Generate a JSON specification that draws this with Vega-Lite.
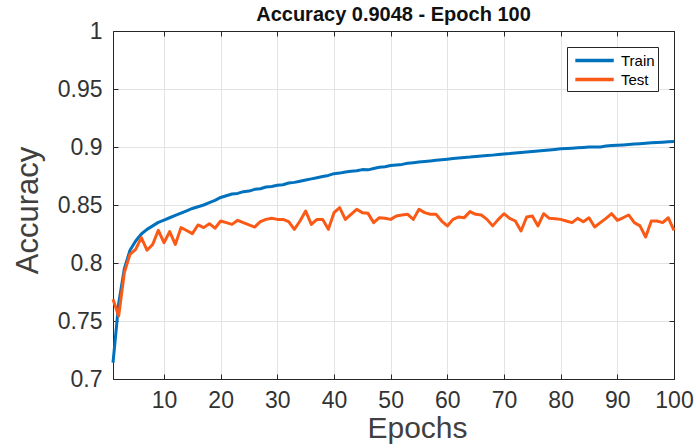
{
 "$schema": "https://vega.github.io/schema/vega-lite/v6.json",
 "width": 561,
 "height": 348,
 "autosize": {"type": "none"},
 "padding": {"left": 113, "top": 31, "right": 22, "bottom": 69},
 "background": "white",
 "config": {"view": {"stroke": null}, "font": "Liberation Sans"},
 "title": {"text": "Accuracy 0.9048 - Epoch 100", "fontSize": 20, "fontWeight": "bold", "font": "Liberation Sans", "color": "#111111", "offset": 9, "dy": 14, "anchor": "middle"},
 "data": {"values": [
  {"epoch":1,"set":"Train","acc":0.714},{"epoch":2,"set":"Train","acc":0.765},{"epoch":3,"set":"Train","acc":0.795},{"epoch":4,"set":"Train","acc":0.811},{"epoch":5,"set":"Train","acc":0.819},
  {"epoch":6,"set":"Train","acc":0.825},{"epoch":7,"set":"Train","acc":0.829},{"epoch":8,"set":"Train","acc":0.832},{"epoch":9,"set":"Train","acc":0.835},{"epoch":10,"set":"Train","acc":0.837},
  {"epoch":11,"set":"Train","acc":0.839},{"epoch":12,"set":"Train","acc":0.841},{"epoch":13,"set":"Train","acc":0.843},{"epoch":14,"set":"Train","acc":0.845},{"epoch":15,"set":"Train","acc":0.847},
  {"epoch":16,"set":"Train","acc":0.8485},{"epoch":17,"set":"Train","acc":0.850},{"epoch":18,"set":"Train","acc":0.852},{"epoch":19,"set":"Train","acc":0.854},{"epoch":20,"set":"Train","acc":0.8565},
  {"epoch":21,"set":"Train","acc":0.858},{"epoch":22,"set":"Train","acc":0.8595},{"epoch":23,"set":"Train","acc":0.860},{"epoch":24,"set":"Train","acc":0.8615},{"epoch":25,"set":"Train","acc":0.862},
  {"epoch":26,"set":"Train","acc":0.8635},{"epoch":27,"set":"Train","acc":0.864},{"epoch":28,"set":"Train","acc":0.8655},{"epoch":29,"set":"Train","acc":0.866},{"epoch":30,"set":"Train","acc":0.867},
  {"epoch":31,"set":"Train","acc":0.8675},{"epoch":32,"set":"Train","acc":0.869},{"epoch":33,"set":"Train","acc":0.8695},{"epoch":34,"set":"Train","acc":0.8705},{"epoch":35,"set":"Train","acc":0.8715},
  {"epoch":36,"set":"Train","acc":0.8725},{"epoch":37,"set":"Train","acc":0.8735},{"epoch":38,"set":"Train","acc":0.8745},{"epoch":39,"set":"Train","acc":0.8755},{"epoch":40,"set":"Train","acc":0.877},
  {"epoch":41,"set":"Train","acc":0.8775},{"epoch":42,"set":"Train","acc":0.8785},{"epoch":43,"set":"Train","acc":0.879},{"epoch":44,"set":"Train","acc":0.8795},{"epoch":45,"set":"Train","acc":0.8805},
  {"epoch":46,"set":"Train","acc":0.8803},{"epoch":47,"set":"Train","acc":0.8815},{"epoch":48,"set":"Train","acc":0.8825},{"epoch":49,"set":"Train","acc":0.883},{"epoch":50,"set":"Train","acc":0.884},
  {"epoch":51,"set":"Train","acc":0.8845},{"epoch":52,"set":"Train","acc":0.885},{"epoch":53,"set":"Train","acc":0.886},{"epoch":54,"set":"Train","acc":0.8865},{"epoch":55,"set":"Train","acc":0.887},
  {"epoch":56,"set":"Train","acc":0.8875},{"epoch":57,"set":"Train","acc":0.888},{"epoch":58,"set":"Train","acc":0.8885},{"epoch":59,"set":"Train","acc":0.889},{"epoch":60,"set":"Train","acc":0.8895},
  {"epoch":61,"set":"Train","acc":0.890},{"epoch":62,"set":"Train","acc":0.8905},{"epoch":63,"set":"Train","acc":0.891},{"epoch":64,"set":"Train","acc":0.8913},{"epoch":65,"set":"Train","acc":0.8918},
  {"epoch":66,"set":"Train","acc":0.8922},{"epoch":67,"set":"Train","acc":0.8926},{"epoch":68,"set":"Train","acc":0.893},{"epoch":69,"set":"Train","acc":0.8935},{"epoch":70,"set":"Train","acc":0.894},
  {"epoch":71,"set":"Train","acc":0.8943},{"epoch":72,"set":"Train","acc":0.8948},{"epoch":73,"set":"Train","acc":0.8952},{"epoch":74,"set":"Train","acc":0.8957},{"epoch":75,"set":"Train","acc":0.8962},
  {"epoch":76,"set":"Train","acc":0.8966},{"epoch":77,"set":"Train","acc":0.897},{"epoch":78,"set":"Train","acc":0.8975},{"epoch":79,"set":"Train","acc":0.8979},{"epoch":80,"set":"Train","acc":0.8984},
  {"epoch":81,"set":"Train","acc":0.8987},{"epoch":82,"set":"Train","acc":0.899},{"epoch":83,"set":"Train","acc":0.8993},{"epoch":84,"set":"Train","acc":0.8996},{"epoch":85,"set":"Train","acc":0.8999},
  {"epoch":86,"set":"Train","acc":0.9001},{"epoch":87,"set":"Train","acc":0.9000},{"epoch":88,"set":"Train","acc":0.9008},{"epoch":89,"set":"Train","acc":0.9012},{"epoch":90,"set":"Train","acc":0.9015},
  {"epoch":91,"set":"Train","acc":0.9018},{"epoch":92,"set":"Train","acc":0.9022},{"epoch":93,"set":"Train","acc":0.9026},{"epoch":94,"set":"Train","acc":0.9029},{"epoch":95,"set":"Train","acc":0.9032},
  {"epoch":96,"set":"Train","acc":0.9036},{"epoch":97,"set":"Train","acc":0.9039},{"epoch":98,"set":"Train","acc":0.9042},{"epoch":99,"set":"Train","acc":0.9045},{"epoch":100,"set":"Train","acc":0.9048},
  {"epoch":1,"set":"Test","acc":0.7687},{"epoch":2,"set":"Test","acc":0.7543},{"epoch":3,"set":"Test","acc":0.7917},{"epoch":4,"set":"Test","acc":0.8075},{"epoch":5,"set":"Test","acc":0.8118},
  {"epoch":6,"set":"Test","acc":0.8218},{"epoch":7,"set":"Test","acc":0.811},{"epoch":8,"set":"Test","acc":0.816},{"epoch":9,"set":"Test","acc":0.8282},{"epoch":10,"set":"Test","acc":0.8175},
  {"epoch":11,"set":"Test","acc":0.827},{"epoch":12,"set":"Test","acc":0.816},{"epoch":13,"set":"Test","acc":0.8305},{"epoch":14,"set":"Test","acc":0.828},{"epoch":15,"set":"Test","acc":0.8253},
  {"epoch":16,"set":"Test","acc":0.8328},{"epoch":17,"set":"Test","acc":0.8305},{"epoch":18,"set":"Test","acc":0.8339},{"epoch":19,"set":"Test","acc":0.830},{"epoch":20,"set":"Test","acc":0.8362},
  {"epoch":21,"set":"Test","acc":0.8348},{"epoch":22,"set":"Test","acc":0.8333},{"epoch":23,"set":"Test","acc":0.8368},{"epoch":24,"set":"Test","acc":0.8348},{"epoch":25,"set":"Test","acc":0.8328},
  {"epoch":26,"set":"Test","acc":0.831},{"epoch":27,"set":"Test","acc":0.8356},{"epoch":28,"set":"Test","acc":0.8376},{"epoch":29,"set":"Test","acc":0.8385},{"epoch":30,"set":"Test","acc":0.8376},
  {"epoch":31,"set":"Test","acc":0.8376},{"epoch":32,"set":"Test","acc":0.8356},{"epoch":33,"set":"Test","acc":0.829},{"epoch":34,"set":"Test","acc":0.8362},{"epoch":35,"set":"Test","acc":0.8448},
  {"epoch":36,"set":"Test","acc":0.8333},{"epoch":37,"set":"Test","acc":0.8376},{"epoch":38,"set":"Test","acc":0.8376},{"epoch":39,"set":"Test","acc":0.829},{"epoch":40,"set":"Test","acc":0.8434},
  {"epoch":41,"set":"Test","acc":0.8477},{"epoch":42,"set":"Test","acc":0.8376},{"epoch":43,"set":"Test","acc":0.842},{"epoch":44,"set":"Test","acc":0.8463},{"epoch":45,"set":"Test","acc":0.8434},
  {"epoch":46,"set":"Test","acc":0.8428},{"epoch":47,"set":"Test","acc":0.8348},{"epoch":48,"set":"Test","acc":0.8391},{"epoch":49,"set":"Test","acc":0.8385},{"epoch":50,"set":"Test","acc":0.8376},
  {"epoch":51,"set":"Test","acc":0.8405},{"epoch":52,"set":"Test","acc":0.8414},{"epoch":53,"set":"Test","acc":0.842},{"epoch":54,"set":"Test","acc":0.8376},{"epoch":55,"set":"Test","acc":0.8463},
  {"epoch":56,"set":"Test","acc":0.8434},{"epoch":57,"set":"Test","acc":0.842},{"epoch":58,"set":"Test","acc":0.842},{"epoch":59,"set":"Test","acc":0.8362},{"epoch":60,"set":"Test","acc":0.8319},
  {"epoch":61,"set":"Test","acc":0.8376},{"epoch":62,"set":"Test","acc":0.8397},{"epoch":63,"set":"Test","acc":0.8391},{"epoch":64,"set":"Test","acc":0.8443},{"epoch":65,"set":"Test","acc":0.842},
  {"epoch":66,"set":"Test","acc":0.8414},{"epoch":67,"set":"Test","acc":0.8376},{"epoch":68,"set":"Test","acc":0.832},{"epoch":69,"set":"Test","acc":0.8376},{"epoch":70,"set":"Test","acc":0.8425},
  {"epoch":71,"set":"Test","acc":0.8385},{"epoch":72,"set":"Test","acc":0.8362},{"epoch":73,"set":"Test","acc":0.8276},{"epoch":74,"set":"Test","acc":0.8397},{"epoch":75,"set":"Test","acc":0.8405},
  {"epoch":76,"set":"Test","acc":0.832},{"epoch":77,"set":"Test","acc":0.8425},{"epoch":78,"set":"Test","acc":0.8385},{"epoch":79,"set":"Test","acc":0.8382},{"epoch":80,"set":"Test","acc":0.8376},
  {"epoch":81,"set":"Test","acc":0.8362},{"epoch":82,"set":"Test","acc":0.8348},{"epoch":83,"set":"Test","acc":0.8385},{"epoch":84,"set":"Test","acc":0.8356},{"epoch":85,"set":"Test","acc":0.839},
  {"epoch":86,"set":"Test","acc":0.831},{"epoch":87,"set":"Test","acc":0.8348},{"epoch":88,"set":"Test","acc":0.8385},{"epoch":89,"set":"Test","acc":0.8425},{"epoch":90,"set":"Test","acc":0.8368},
  {"epoch":91,"set":"Test","acc":0.839},{"epoch":92,"set":"Test","acc":0.8414},{"epoch":93,"set":"Test","acc":0.8348},{"epoch":94,"set":"Test","acc":0.832},{"epoch":95,"set":"Test","acc":0.8224},
  {"epoch":96,"set":"Test","acc":0.8362},{"epoch":97,"set":"Test","acc":0.8362},{"epoch":98,"set":"Test","acc":0.8348},{"epoch":99,"set":"Test","acc":0.839},{"epoch":100,"set":"Test","acc":0.8282}
 ]},
 "layer": [
  {
   "mark": {"type": "line", "strokeWidth": 3, "strokeJoin": "round"},
   "encoding": {
    "x": {"field": "epoch", "type": "quantitative",
     "scale": {"domain": [1, 100], "nice": false, "zero": false},
     "axis": {"orient": "bottom", "values": [10,20,30,40,50,60,70,80,90,100], "title": "Epochs",
      "grid": true, "gridColor": "#e3e3e3", "gridWidth": 1,
      "domainColor": "#262626", "domainWidth": 1, "tickColor": "#262626", "tickSize": -5, "tickWidth": 1,
      "labelPadding": 15, "labelFontSize": 23, "labelColor": "#333333", "labelFont": "Liberation Sans", "labelFlush": false, "labelOverlap": false,
      "titleFontSize": 30, "titleFontWeight": "normal", "titleColor": "#404040", "titleFont": "Liberation Sans",
      "titleX": 304, "titleY": 58, "titleBaseline": "alphabetic", "titleAlign": "center"}},
    "y": {"field": "acc", "type": "quantitative",
     "scale": {"domain": [0.7, 1], "nice": false, "zero": false},
     "axis": {"orient": "left", "values": [0.7,0.75,0.8,0.85,0.9,0.95,1], "format": "~g", "title": "Accuracy",
      "grid": true, "gridColor": "#e3e3e3", "gridWidth": 1,
      "domainColor": "#262626", "domainWidth": 1, "tickColor": "#262626", "tickSize": -5, "tickWidth": 1,
      "labelPadding": 16, "labelFontSize": 23, "labelColor": "#333333", "labelFont": "Liberation Sans", "labelFlush": false, "labelOverlap": false,
      "titleFontSize": 31, "titleFontWeight": "normal", "titleColor": "#404040", "titleFont": "Liberation Sans",
      "titleAngle": 270, "titleX": -76, "titleY": 179, "titleBaseline": "alphabetic", "titleAlign": "center"}},
    "color": {"field": "set", "type": "nominal",
     "scale": {"domain": ["Train", "Test"], "range": ["#0072BD", "#FA5A16"]},
     "legend": {"orient": "none", "legendX": 454, "legendY": 16, "title": null,
      "symbolType": "M-0.61,0H3.91", "symbolSize": 289, "symbolStrokeWidth": 3.5, "symbolOffset": 0,
      "labelOffset": 30, "labelFontSize": 15, "labelFont": "Liberation Sans", "labelColor": "#000000",
      "padding": 3, "rowPadding": 0, "strokeColor": "#262626", "fillColor": "#ffffff", "labelLimit": 200}}
   }
  },
  {
   "mark": {"type": "line", "opacity": 0},
   "encoding": {
    "detail": {"field": "set"},
    "x": {"field": "epoch", "type": "quantitative",
     "scale": {"domain": [1, 100], "nice": false, "zero": false},
     "axis": {"orient": "top", "values": [10,20,30,40,50,60,70,80,90,100], "title": null, "labels": false, "grid": false,
      "domainColor": "#262626", "domainWidth": 1, "tickColor": "#262626", "tickSize": -5, "tickWidth": 1}},
    "y": {"field": "acc", "type": "quantitative",
     "scale": {"domain": [0.7, 1], "nice": false, "zero": false},
     "axis": {"orient": "right", "values": [0.7,0.75,0.8,0.85,0.9,0.95,1], "title": null, "labels": false, "grid": false,
      "domainColor": "#262626", "domainWidth": 1, "tickColor": "#262626", "tickSize": -5, "tickWidth": 1}}
   }
  }
 ],
 "resolve": {"axis": {"x": "independent", "y": "independent"}}
}
